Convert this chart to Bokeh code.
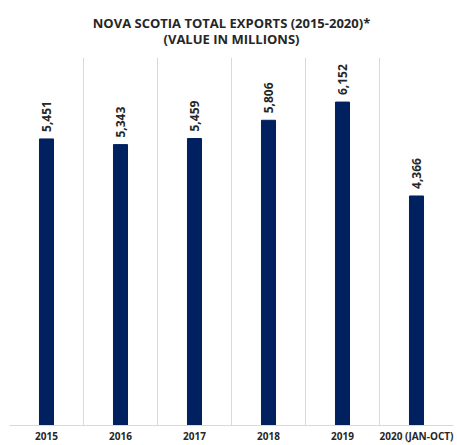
from bokeh.plotting import figure
from bokeh.models import FixedTicker, Range1d, ColumnDataSource
from bokeh.core.properties import value
from bokeh.embed import file_html
from bokeh.resources import INLINE
import math

categories = ["2015", "2016", "2017", "2018", "2019", "2020 (JAN-OCT)"]
values = [5451, 5343, 5459, 5806, 6152, 4366]
title_line1 = "NOVA SCOTIA TOTAL EXPORTS (2015-2020)*"
title_line2 = "(VALUE IN MILLIONS)"

n = len(categories)
xs = [i + 0.5 for i in range(n)]
src = ColumnDataSource(dict(x=xs, top=values, label=[f"{v:,}" for v in values]))

FONT = "Open Sans"
TXT = "#262626"
BAR = "#002060"
GRID = "#d9d9d9"

p = figure(width=457, height=445, output_backend="svg", toolbar_location=None,
           x_range=Range1d(0, n), y_range=Range1d(0, 7000),
           min_border_left=9, min_border_right=4, min_border_top=57, min_border_bottom=0,
           title=title_line1 + "\n" + title_line2)
p.title.align = "center"
p.title.text_align = "center"
p.title.text_font = FONT
p.title.text_font_size = "13px"
p.title.text_font_style = "bold"
p.title.text_color = TXT
p.title.text_line_height = 0.9
p.title.standoff = 19
p.title.offset = 0

p.vbar(x="x", top="top", width=0.19, bottom=0, source=src, color=BAR)
p.text(x="x", y="top", text="label", source=src, angle=math.pi / 2,
       text_align="left", text_baseline="middle", y_offset=-7,
       text_font=value(FONT), text_font_size="12px", text_font_style="bold", text_color=TXT)

p.outline_line_color = None
p.yaxis.visible = False
p.ygrid.visible = False
p.xgrid.ticker = FixedTicker(ticks=list(range(1, n + 1)))
p.xgrid.grid_line_color = GRID
p.xaxis.ticker = FixedTicker(ticks=xs)
p.xaxis.major_label_overrides = {x: c for x, c in zip(xs, categories)}
p.xaxis.major_tick_line_color = None
p.xaxis.minor_tick_line_color = None
p.xaxis.major_tick_out = 0
p.xaxis.major_tick_in = 0
p.xaxis.minor_tick_out = 0
p.xaxis.axis_label = None
p.xaxis.axis_label_standoff = 0
p.xaxis.axis_line_color = GRID
p.xaxis.major_label_standoff = 3
p.xaxis.major_label_text_font = FONT
p.xaxis.major_label_text_font_size = "10px"
p.xaxis.major_label_text_font_style = "bold"
p.xaxis.major_label_text_color = TXT

open("out.html", "w").write(file_html(p, INLINE))
